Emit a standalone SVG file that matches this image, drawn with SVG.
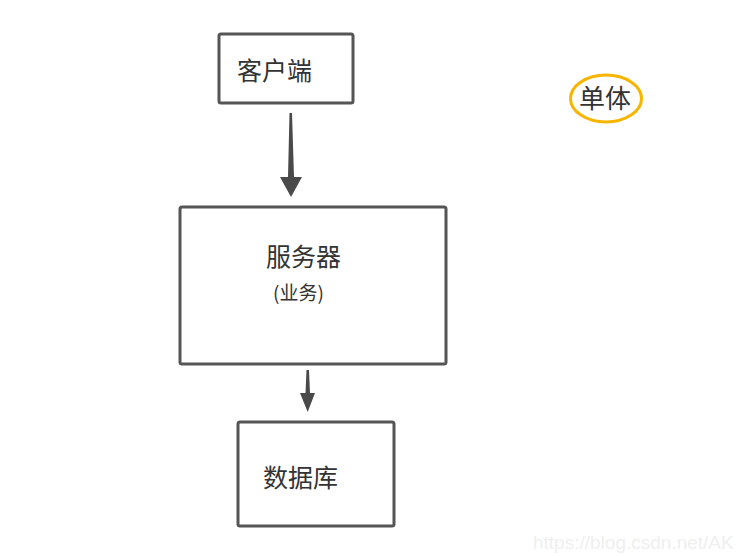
<svg xmlns="http://www.w3.org/2000/svg" width="745" height="556" viewBox="0 0 745 556">
<style>
.box{fill:#fff;stroke:#555;stroke-width:3}
.t{font-family:"Microsoft YaHei","Noto Sans CJK SC",sans-serif;fill:#333}
.arr{fill:#4a4a4a}
</style>
<rect width="745" height="556" fill="#fff"/>
<g id="client">
<rect class="box" x="219" y="34" width="134" height="69" rx="2"/>
<text class="t" x="237" y="80" font-size="25">客户端</text>
</g>
<g id="server">
<rect class="box" x="180" y="207" width="266" height="157" rx="2"/>
<text class="t" x="266" y="266" font-size="25">服务器</text>
<text class="t" x="273" y="300" font-size="19">(业务)</text>
</g>
<g id="database">
<rect class="box" x="238" y="422" width="156" height="104" rx="2"/>
<text class="t" x="263" y="487" font-size="25">数据库</text>
</g>
<g id="single">
<ellipse cx="606" cy="98.5" rx="35.5" ry="23.5" fill="none" stroke="#F7B500" stroke-width="3"/>
<text class="t" x="579" y="108" font-size="26">单体</text>
</g>
<g id="connectors">
<polygon class="arr" points="289.5,113 292,113 294,177 302,177 291,197 280,177 288,177"/>
<polygon class="arr" points="306.5,370 309,370 310,393 315,393 307.7,412 300,393 305.5,393"/>
</g>
<text x="533" y="549" font-family="Liberation Sans, Arial, sans-serif" font-size="19" fill="#efefef">https://blog.csdn.net/AK</text>
</svg>
